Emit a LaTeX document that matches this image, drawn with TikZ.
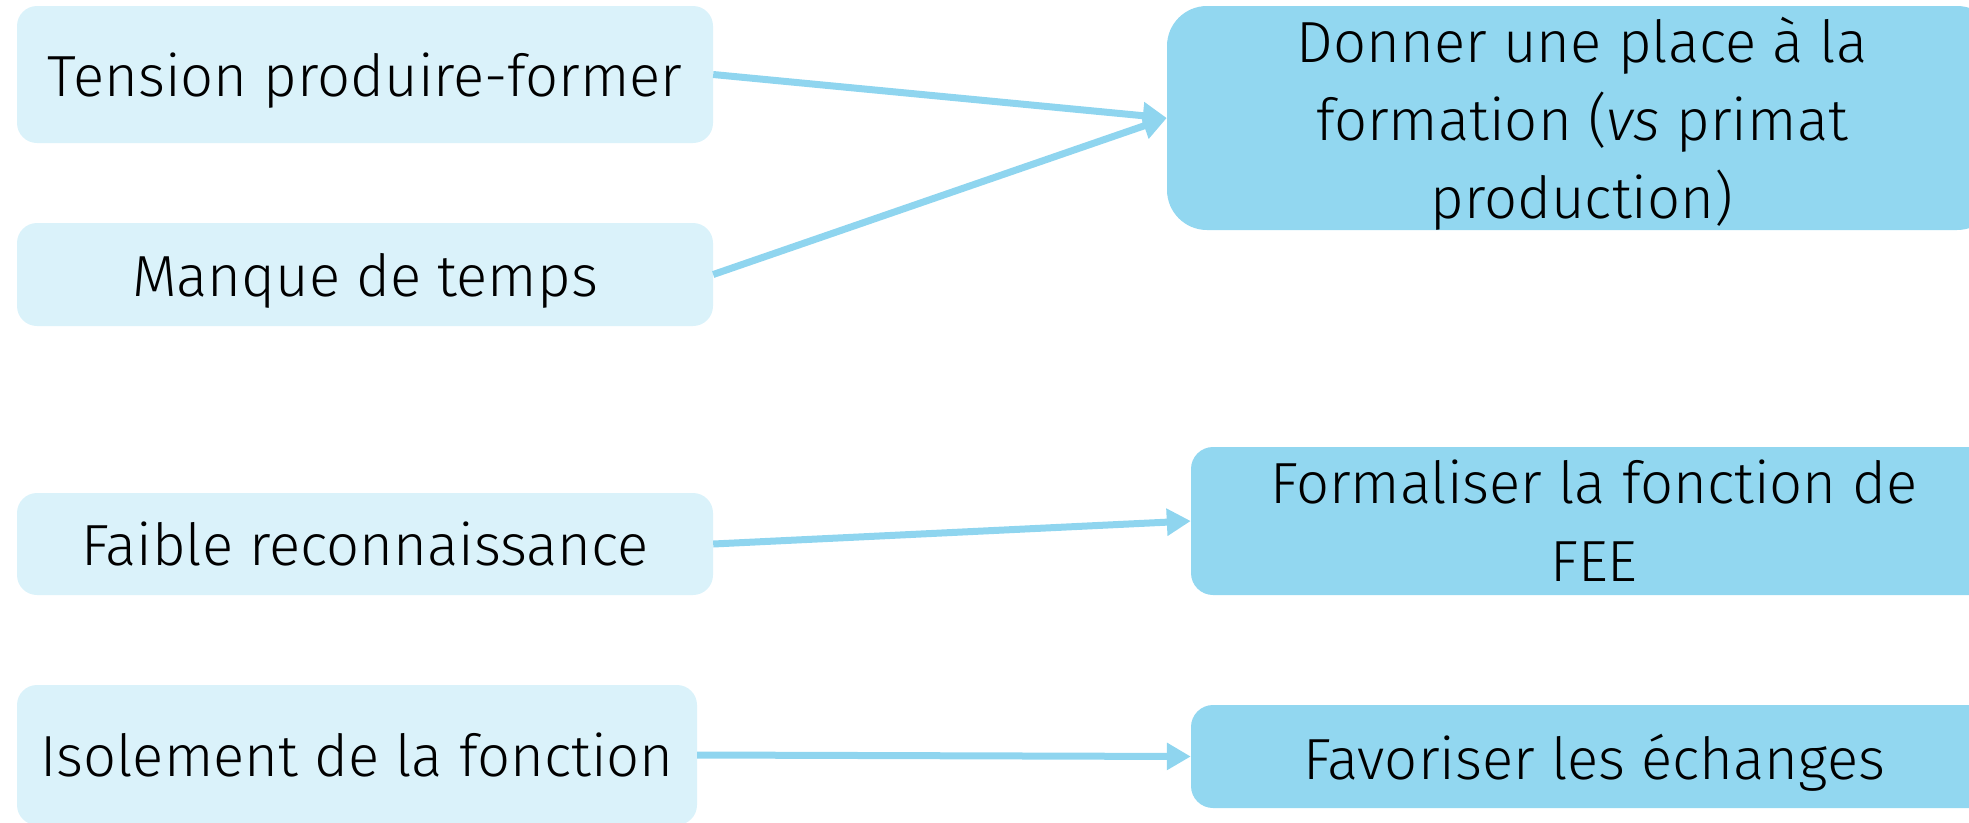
\documentclass[tikz,border=0pt]{standalone}
\usepackage{fontspec}
\setmainfont{Fira Sans}[UprightFont=* Light, ItalicFont=* Light Italic]
\usetikzlibrary{arrows.meta}
\definecolor{boitelight}{HTML}{DAF2FA}
\definecolor{boitedark}{HTML}{92D7F0}
\definecolor{fleche}{HTML}{8FD5EF}

\begin{document}
\begin{tikzpicture}[
		x=1pt, y=-1pt,
		every node/.style={rectangle, inner sep=0pt, align=center, text depth=0pt,
			font=\fontsize{58}{78}\selectfont},
		cause/.style={fill=boitelight, rounded corners=20pt, minimum width=696pt},
		remede/.style={fill=boitedark, rounded corners=22pt, minimum width=806pt},
		lien/.style={draw=fleche, line width=7pt, -{Triangle[length=24pt, width=26pt]}}
	]
  \useasboundingbox (0,0) rectangle (1969,822);
  \node (tension) [cause, minimum height=137pt] at (365,74.5) {Tension produire-former};
  \node (manque) [cause, minimum height=103pt] at (365,274.5) {Manque de temps};
  \node (faible) [cause, minimum height=102pt] at (365,544) {Faible reconnaissance};
  \node (isolement) [cause, minimum width=680pt, minimum height=140pt] at (357,755) {Isolement de la fonction};
  \node (donner) [remede, rounded corners=40pt, minimum width=830pt, minimum height=224pt] at (1582,118) {Donner une place à la\\formation (\textit{vs} primat\\production)};
  \node (formaliser) [remede, minimum height=148pt] at (1594,521) {Formaliser la fonction de\\FEE};
  \node (favoriser) [remede, minimum height=103pt] at (1594,756.5) {Favoriser les échanges};
  \draw (tension.east) edge [lien] (donner.west);
  \draw (manque.east) edge [lien] (donner.west);
  \draw (faible.east) edge [lien] (formaliser.west);
  \draw (isolement.east) edge [lien] (favoriser.west);
\end{tikzpicture}
\end{document}
